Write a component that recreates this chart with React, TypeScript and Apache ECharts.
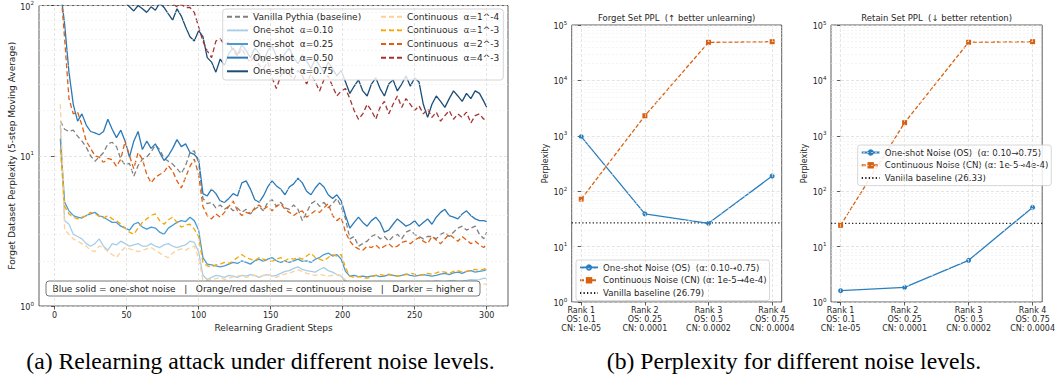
import React, { useEffect, useRef } from "react";
import * as echarts from "echarts";

// ---------- Data: left panel (5-step moving average, sampled steps) ----------
const STEPS = [4, 7, 10, 13, 16, 19, 22, 25, 28, 31, 34, 37, 40, 43, 46, 49, 52, 55, 58, 61, 64, 67, 70, 73, 76, 79, 82, 85, 88, 91, 94, 97, 100, 103, 106, 109, 112, 115, 118, 121, 124, 127, 130, 133, 136, 139, 142, 145, 148, 151, 154, 157, 160, 163, 166, 169, 172, 175, 178, 181, 184, 187, 190, 193, 196, 199, 202, 205, 208, 211, 214, 217, 220, 223, 226, 229, 232, 235, 238, 241, 244, 247, 250, 253, 256, 259, 262, 265, 268, 271, 274, 277, 280, 283, 286, 289, 292, 295, 298, 300];

const VANILLA = [17, 15, 14.5, 14.8, 13.5, 12.5, 11.4, 10, 9.2, 9.8,
  10.5, 12, 12.3, 11.5, 9.5, 8.7, 8.9, 7.3, 8.6, 9.5,
  9.8, 10.6, 11.8, 11, 9.6, 9.2, 8.8, 8.2, 7.6, 8.6,
  10.5, 10.8, 9, 5.2, 4.8, 4.9, 4.5, 4.7, 4.4, 4.6,
  4.3, 4.5, 4.2, 4.4, 4.1, 4.4, 4.6, 4.3, 4.9, 5.1,
  4.6, 4.9, 4.5, 4.4, 4.7, 4.4, 3.7, 4.2, 4.8, 5.0,
  4.6, 4.9, 4.5, 4.8, 5.2, 4.6, 3.8, 2.8, 2.9, 2.5,
  2.6, 2.7, 2.9, 3.0, 2.8, 2.9, 2.7, 2.9, 3.0, 2.8,
  3.1, 3.2, 3.0, 2.9, 2.8, 2.9, 2.9, 2.8, 3.0, 3.1,
  2.9, 3.1, 3.3, 3.4, 3.2, 3.3, 3.4, 3.0, 2.8, 3.1];

const OS_010 = [16, 3.7, 3.5, 3.0, 2.9, 2.8, 2.6, 2.5, 2.6, 2.8,
  2.5, 2.35, 2.6, 2.55, 2.7, 2.6, 2.5, 2.55, 2.6, 2.5,
  2.5, 2.6, 2.5, 2.45, 2.55, 2.6, 2.5, 2.45, 2.5, 2.55,
  2.7, 2.65, 2.3, 1.6, 1.5, 1.55, 1.6, 1.58, 1.55, 1.6,
  1.58, 1.55, 1.6, 1.58, 1.62, 1.6, 1.55, 1.6, 1.62, 1.58,
  1.6, 1.65, 1.7, 1.72, 1.78, 1.82, 1.75, 1.72, 1.7, 1.68,
  1.75, 1.8, 1.72, 1.68, 1.62, 1.58, 1.45, 1.42, 1.44, 1.43,
  1.45, 1.44, 1.42, 1.44, 1.46, 1.44, 1.43, 1.45, 1.44, 1.46,
  1.45, 1.44, 1.46, 1.45, 1.44, 1.46, 1.45, 1.47, 1.46, 1.45,
  1.47, 1.48, 1.46, 1.47, 1.48, 1.5, 1.49, 1.5, 1.53, 1.52];

const OS_025 = [13, 4.9, 4.3, 4.0, 3.9, 3.85, 4.0, 4.1, 4.2, 4.0,
  3.9, 3.75, 3.6, 3.6, 3.4, 3.3, 3.2, 3.5, 3.6, 3.35,
  3.25, 3.35, 3.3, 3.1, 3.0, 3.3, 3.45, 3.6, 3.7, 3.65,
  3.9, 3.7, 3.2, 2.1, 1.9, 1.88, 1.85, 1.82, 1.85, 1.9,
  1.95, 1.92, 2.0, 1.95, 1.9, 2.0, 2.05, 1.98, 2.05, 2.1,
  2.0, 1.95, 2.0, 1.95, 2.0, 2.05, 1.98, 2.0, 1.95, 2.05,
  2.1, 2.2, 2.25, 2.15, 2.2, 2.05, 1.7, 1.58, 1.6, 1.57,
  1.58, 1.56, 1.58, 1.6, 1.57, 1.58, 1.62, 1.6, 1.58, 1.6,
  1.63, 1.6, 1.58, 1.6, 1.62, 1.6, 1.58, 1.6, 1.63, 1.65,
  1.62, 1.66, 1.68, 1.65, 1.7, 1.72, 1.68, 1.7, 1.72, 1.75];

const OS_050 = [130, 75, 36, 22, 17, 19, 16, 14.5, 14.2, 13.8,
  14.5, 17.5, 15, 13.2, 14.8, 12.5, 9.8, 12.5, 14.5, 11,
  12.5, 11.2, 12, 10.5, 9.3, 10, 11.2, 12.8, 11.5, 12,
  10.5, 10.2, 9.5, 5.6, 5.4, 6, 5.6, 5.0, 4.9, 5.2,
  5.6, 5.4, 6.6, 6.8, 6, 5.1, 4.9, 5.4, 6.2, 6.8,
  6.3, 6.0, 5.5, 6.2, 6.5, 7.1, 6.6, 5.8, 5.5, 6.1,
  6.6, 6.2, 5.5, 5.2, 5.5, 5.0, 4.0, 3.3, 3.6, 3.9,
  3.6, 3.4, 3.7, 3.9, 3.6, 3.1, 3.2, 3.5, 3.8, 3.6,
  3.4, 3.5, 3.7, 3.4, 3.6, 3.8, 3.5, 3.9, 4.2, 4.4,
  4.0, 3.9, 3.8, 4.1, 4.3, 4.0, 3.8, 3.7, 3.7, 3.65];

const OS_075 = [150, 140, 130, 125, 120, 118, 122, 115, 120, 112,
  118, 110, 115, 108, 112, 105, 98, 92, 100, 95,
  90, 98, 93, 104, 97, 88, 80, 95, 85, 72,
  62, 58, 68, 62, 45, 42, 36, 44, 40, 48,
  52, 47, 55, 50, 45, 52, 48, 42, 50, 54,
  46, 43, 48, 52, 45, 41, 47, 43, 38, 44,
  40, 36, 42, 38, 34, 37, 31, 26, 29, 32,
  27, 25, 30, 33, 28, 25, 30, 32, 27, 30,
  34, 29, 33, 31, 22, 18, 22, 25, 23, 21,
  24, 27, 25, 23, 26, 24, 27, 26, 23, 21];

const CN_1E4 = [22, 3.2, 3.0, 2.8, 2.7, 2.6, 2.5, 2.35, 2.3, 2.5,
  2.45, 2.3, 2.2, 2.1, 2.3, 2.45, 2.4, 2.35, 2.3, 2.35,
  2.4, 2.45, 2.35, 2.25, 2.15, 2.1, 2.25, 2.35, 2.4, 2.35,
  2.45, 2.5, 2.1, 1.5, 1.48, 1.5, 1.52, 1.55, 1.5, 1.53,
  1.56, 1.58, 1.6, 1.55, 1.58, 1.6, 1.56, 1.6, 1.62, 1.58,
  1.55, 1.6, 1.63, 1.65, 1.7, 1.74, 1.7, 1.65, 1.62, 1.6,
  1.62, 1.6, 1.58, 1.6, 1.62, 1.6, 1.48, 1.42, 1.4, 1.41,
  1.42, 1.4, 1.41, 1.43, 1.42, 1.4, 1.41, 1.42, 1.43, 1.41,
  1.42, 1.4, 1.41, 1.42, 1.43, 1.41, 1.42, 1.4, 1.41, 1.42,
  1.43, 1.42, 1.41, 1.42, 1.4, 1.41, 1.42, 1.41, 1.4, 1.4];

const CN_1E3 = [11, 4.6, 4.1, 3.9, 3.8, 3.9, 4.0, 4.2, 4.1, 3.95,
  3.85, 4.0, 3.8, 3.7, 3.5, 3.3, 3.1, 3.0, 3.3, 3.6,
  3.8, 4.0, 4.1, 3.7, 3.5, 3.75, 3.9, 3.6, 3.35, 3.45,
  3.5, 3.25, 2.9, 1.95, 1.85, 1.82, 1.88, 1.9, 1.95, 1.92,
  2.0, 2.1, 2.2, 2.1, 2.05, 2.0, 2.1, 2.05, 2.0, 1.98,
  2.05, 2.1, 2.0, 2.08, 2.05, 2.1, 2.05, 2.15, 2.25, 2.1,
  2.05, 2.0, 2.1, 2.2, 2.15, 2.2, 1.8, 1.58, 1.55, 1.57,
  1.55, 1.53, 1.56, 1.6, 1.62, 1.6, 1.63, 1.6, 1.58, 1.6,
  1.62, 1.65, 1.63, 1.6, 1.62, 1.65, 1.63, 1.66, 1.7, 1.68,
  1.65, 1.7, 1.72, 1.68, 1.7, 1.73, 1.75, 1.72, 1.76, 1.8];

const CN_2E3 = [140, 60, 24, 19, 19.5, 16, 12.5, 11.2, 10, 9.8,
  9, 9.6, 9.4, 8.5, 9.5, 12.5, 10, 8.2, 10.5, 9.5,
  7.5, 6.6, 7.2, 7.5, 7.8, 8.6, 7.9, 6.8, 6.1, 7.2,
  8.5, 9.5, 7.5, 4.6, 4.0, 3.8, 4.1, 3.9, 4.2, 4.6,
  5.0, 4.3, 4.0, 4.2, 4.1, 4.5, 4.7, 4.4, 4.6, 4.3,
  4.6, 4.8, 4.4, 4.2, 4.0, 4.2, 4.3, 3.9, 4.1, 4.3,
  4.2, 4.5, 4.8, 4.0, 3.7, 3.9, 3.1, 2.7, 2.5, 2.4,
  2.35, 2.5, 2.45, 2.55, 2.4, 2.5, 2.6, 2.45, 2.5, 2.65,
  2.7, 2.6, 2.75, 2.85, 2.7, 2.6, 2.9, 2.75, 2.6, 2.8,
  3.0, 2.85, 2.7, 2.9, 2.75, 2.6, 2.7, 2.55, 2.45, 2.6];

const CN_4E3 = [160, 150, 140, 135, 130, 128, 125, 130, 122, 126,
  120, 124, 118, 122, 116, 120, 115, 118, 113, 117,
  112, 115, 110, 114, 108, 112, 103, 98, 102, 97,
  97, 90, 72, 58, 50, 45, 58, 60, 55, 57,
  50, 46, 52, 45, 42, 47, 40, 38, 42, 33,
  28, 34, 38, 35, 32, 37, 34, 30, 35, 31,
  27, 32, 34, 29, 25, 27, 28, 24, 20, 17.5,
  19, 22, 20, 17.5, 21, 23, 19, 22, 25, 21,
  24, 22, 20, 21.5, 19, 20.5, 18, 19.5, 17, 18.5,
  20, 17.5, 19, 18, 19.5, 16.5, 18.5, 19, 17.5, 18];

const LEFT_XTICKS = [0, 50, 100, 150, 200, 250, 300];

// ---------- Data: right panels ----------
const RANKS = ["Rank 1", "Rank 2", "Rank 3", "Rank 4"];
const OS_LEVELS = ["0.1", "0.25", "0.5", "0.75"];
const CN_LEVELS = ["1e-05", "0.0001", "0.0002", "0.0004"];
const RANK_POS = [0, 1, 2, 3];
const FORGET_OS = [964, 39, 26.3, 188];
const FORGET_CN = [72, 2300, 48700, 50000];
const FORGET_BASE = 26.79;
const RETAIN_OS = [1.6, 1.84, 5.66, 51];
const RETAIN_CN = [24.2, 1725, 48800, 50000];
const RETAIN_BASE = 26.33;

const FONT = "DejaVu Sans";
const TXT = "#262626";

const LEFT_SERIES = [
  { name: "Vanilla Pythia (baseline)", data: VANILLA, color: "#808080", dash: true },
  { name: "One-shot  α=0.10", data: OS_010, color: "#a6cee8", dash: false },
  { name: "One-shot  α=0.25", data: OS_025, color: "#4a9bd4", dash: false },
  { name: "One-shot  α=0.50", data: OS_050, color: "#2a79b8", dash: false },
  { name: "One-shot  α=0.75", data: OS_075, color: "#1b4d78", dash: false },
  { name: "Continuous  α=1^-4", data: CN_1E4, color: "#fdd09a", dash: true },
  { name: "Continuous  α=1^-3", data: CN_1E3, color: "#f5a700", dash: true },
  { name: "Continuous  α=2^-3", data: CN_2E3, color: "#df5f10", dash: true },
  { name: "Continuous  α=4^-3", data: CN_4E3, color: "#a33333", dash: true },
];

const OS_NAME = "One-shot Noise (OS)  (α: 0.10→0.75)";
const CN_NAME = "Continuous Noise (CN) (α: 1e-5→4e-4)";
const OS_COLOR = "#2a7fbf";
const CN_COLOR = "#d9600e";

function minorValues(decades: number): number[] {
  const out: number[] = [];
  for (let e = 0; e < decades; e++) {
    for (let m = 2; m <= 9; m++) out.push(m * Math.pow(10, e));
  }
  return out;
}

const supFmt = (v: number) => `{b|10}{s|${Math.round(Math.log10(v))}}`;
const supRich = {
  b: { fontSize: 8, fontFamily: FONT, color: TXT, lineHeight: 11, verticalAlign: "bottom" },
  s: { fontSize: 5.6, fontFamily: FONT, color: TXT, lineHeight: 11, verticalAlign: "top" },
};

const majorGrid = { color: "#d8d8d8", width: 0.7, type: [3, 2] };
const minorGrid = { color: "#ececec", width: 0.6, type: [2, 2] };

function gridHelper(xi: number, xVals: number[], yMinor: number[]) {
  return {
    type: "line",
    xAxisIndex: xi,
    yAxisIndex: xi,
    data: [],
    silent: true,
    z: 1,
    markLine: {
      silent: true,
      symbol: ["none", "none"],
      label: { show: false },
      emphasis: { disabled: true },
      animation: false,
      data: [
        ...xVals.map((x) => ({ xAxis: x, lineStyle: majorGrid })),
        ...yMinor.map((y) => ({ yAxis: y, lineStyle: minorGrid })),
      ],
    },
  };
}

function buildOption() {
  const tickStyle = { length: 3.5, lineStyle: { color: "#333", width: 0.8 } };
  const rankFmt = (v: number) => {
    const i = Math.round(v);
    return `${RANKS[i]}\nOS: ${OS_LEVELS[i]}\nCN: ${CN_LEVELS[i]}`;
  };
  const rightX = (gi: number) => ({
    gridIndex: gi,
    type: "value",
    min: -0.15,
    max: 3.15,
    axisLine: { show: false },
    splitLine: { show: false },
    axisTick: { show: true, customValues: RANK_POS, ...tickStyle },
    axisLabel: {
      customValues: RANK_POS,
      formatter: rankFmt,
      fontSize: 8,
      lineHeight: 9,
      color: TXT,
      fontFamily: FONT,
      margin: 4,
    },
  });
  const rightY = (gi: number) => ({
    gridIndex: gi,
    type: "log",
    logBase: 10,
    min: 1,
    max: 100000,
    interval: 1,
    axisLine: { show: false },
    axisTick: { show: true, ...tickStyle },
    splitLine: { show: true, lineStyle: majorGrid },
    axisLabel: { formatter: supFmt, rich: supRich, margin: 4.5 },
    name: "Perplexity",
    nameLocation: "middle",
    nameGap: 17.5,
    nameTextStyle: { fontSize: 8, color: TXT, fontFamily: FONT },
  });

  const leftSeries = LEFT_SERIES.map((s) => ({
    type: "line",
    name: s.name,
    xAxisIndex: 0,
    yAxisIndex: 0,
    data: STEPS.map((x, i) => [x, s.data[i]]),
    symbol: "none",
    color: s.color,
    lineStyle: { color: s.color, width: 1.3, type: s.dash ? [5, 3] : "solid" },
    clip: true,
    z: 2,
  }));

  const rightSeries = (gi: number, os: number[], cn: number[], base: number, baseName: string) => [
    {
      type: "line",
      name: OS_NAME,
      xAxisIndex: gi,
      yAxisIndex: gi,
      data: RANK_POS.map((x, i) => [x, os[i]]),
      symbol: "circle",
      symbolSize: 5,
      color: OS_COLOR,
      lineStyle: { color: OS_COLOR, width: 1.3 },
      itemStyle: { color: OS_COLOR },
      z: 3,
    },
    {
      type: "line",
      name: CN_NAME,
      xAxisIndex: gi,
      yAxisIndex: gi,
      data: RANK_POS.map((x, i) => [x, cn[i]]),
      symbol: "rect",
      symbolSize: 5,
      color: CN_COLOR,
      lineStyle: { color: CN_COLOR, width: 1.3, type: [4, 2] },
      itemStyle: { color: CN_COLOR },
      z: 3,
    },
    {
      type: "line",
      name: baseName,
      xAxisIndex: gi,
      yAxisIndex: gi,
      data: [[-0.15, base], [3.15, base]],
      symbol: "none",
      color: "#222",
      lineStyle: { color: "#222", width: 1.3, type: [1.3, 2.2] },
      z: 2,
    },
  ];

  const legText = (fs: number, lh: number) => ({ fontSize: fs, lineHeight: lh, color: TXT, fontFamily: FONT });
  const noSym = (name: string) => ({ name, itemStyle: { opacity: 0 } });

  return {
    animation: false,
    backgroundColor: "#ffffff",
    grid: [
      { left: 39, top: 4, width: 469, height: 302, show: true, borderColor: "#333", borderWidth: 0.8, backgroundColor: "transparent" },
      { left: 571.7, top: 25, width: 210, height: 277, show: true, borderColor: "#333", borderWidth: 0.8, backgroundColor: "transparent" },
      { left: 831, top: 25, width: 211.3, height: 277, show: true, borderColor: "#333", borderWidth: 0.8, backgroundColor: "transparent" },
    ],
    xAxis: [
      {
        gridIndex: 0,
        type: "value",
        min: -10.8,
        max: 314.8,
        axisLine: { show: false },
        splitLine: { show: false },
        axisTick: { show: true, customValues: LEFT_XTICKS, ...tickStyle },
        axisLabel: { customValues: LEFT_XTICKS, fontSize: 8, color: TXT, fontFamily: FONT, margin: 5 },
        name: "Relearning Gradient Steps",
        nameLocation: "middle",
        nameGap: 16,
        nameTextStyle: { fontSize: 9, color: TXT, fontFamily: FONT },
      },
      rightX(1),
      rightX(2),
    ],
    yAxis: [
      {
        gridIndex: 0,
        type: "log",
        logBase: 10,
        min: 1,
        max: 100,
        interval: 1,
        axisLine: { show: false },
        axisTick: { show: true, ...tickStyle },
        splitLine: { show: true, lineStyle: majorGrid },
        axisLabel: { formatter: supFmt, rich: supRich, margin: 5 },
        name: "Forget Dataset Perplexity (5-step Moving Average)",
        nameLocation: "middle",
        nameGap: 22,
        nameTextStyle: { fontSize: 9, color: TXT, fontFamily: FONT },
      },
      rightY(1),
      rightY(2),
    ],
    legend: [
      {
        data: LEFT_SERIES.slice(0, 5).map((s) => noSym(s.name)),
        orient: "vertical",
        left: 226,
        top: 11.7,
        padding: 0,
        itemWidth: 21,
        itemHeight: 10,
        itemGap: 3.65,
        selectedMode: false,
        itemStyle: { opacity: 0 },
        textStyle: legText(9, 10),
        z: 5,
      },
      {
        data: LEFT_SERIES.slice(5).map((s) => noSym(s.name)),
        orient: "vertical",
        left: 380,
        top: 11.7,
        padding: 0,
        itemWidth: 21,
        itemHeight: 10,
        itemGap: 3.65,
        selectedMode: false,
        itemStyle: { opacity: 0 },
        textStyle: legText(9, 10),
        z: 5,
      },
      {
        data: [OS_NAME, CN_NAME, noSym(`Vanilla baseline (${FORGET_BASE})`)],
        orient: "vertical",
        left: 576,
        top: 260,
        padding: [3, 3, 3, 3],
        itemWidth: 18,
        itemHeight: 8,
        itemGap: 3.8,
        selectedMode: false,
        backgroundColor: "rgba(255,255,255,0.85)",
        borderColor: "#cccccc",
        borderWidth: 0.8,
        borderRadius: 2.5,
        textStyle: legText(8.6, 8),
        z: 5,
      },
      {
        data: [OS_NAME, CN_NAME, noSym(`Vanilla baseline (${RETAIN_BASE})`)],
        orient: "vertical",
        left: 857.7,
        top: 145,
        padding: [3, 3, 3, 3],
        itemWidth: 18,
        itemHeight: 8,
        itemGap: 3.8,
        selectedMode: false,
        backgroundColor: "rgba(255,255,255,0.85)",
        borderColor: "#cccccc",
        borderWidth: 0.8,
        borderRadius: 2.5,
        textStyle: legText(8.6, 8),
        z: 5,
      },
    ],
    graphic: [
      {
        type: "rect",
        z: 3,
        silent: true,
        shape: { x: 222.7, y: 9, width: 280.6, height: 71, r: 3 },
        style: { fill: "rgba(255,255,255,0.8)", stroke: "#cccccc", lineWidth: 0.8 },
      },
      {
        type: "rect",
        z: 3,
        silent: true,
        shape: { x: 46, y: 281, width: 434, height: 15, r: 3 },
        style: { fill: "rgba(255,255,255,0.9)", stroke: "#555555", lineWidth: 0.8 },
      },
      {
        type: "text",
        z: 4,
        silent: true,
        x: 263,
        y: 288.5,
        style: {
          text: "Blue solid = one-shot noise   |   Orange/red dashed = continuous noise   |   Darker = higher α",
          fontSize: 9,
          fontFamily: FONT,
          fill: TXT,
          align: "center",
          verticalAlign: "middle",
          textAlign: "center",
          textVerticalAlign: "middle",
        },
      },
      {
        type: "text",
        z: 4,
        silent: true,
        x: 676.7,
        y: 18.3,
        style: {
          text: "Forget Set PPL  (↑ better unlearning)",
          fontSize: 8.5,
          fontFamily: FONT,
          fill: TXT,
          align: "center",
          verticalAlign: "middle",
          textAlign: "center",
          textVerticalAlign: "middle",
        },
      },
      {
        type: "text",
        z: 4,
        silent: true,
        x: 936.7,
        y: 18.3,
        style: {
          text: "Retain Set PPL  (↓ better retention)",
          fontSize: 8.5,
          fontFamily: FONT,
          fill: TXT,
          align: "center",
          verticalAlign: "middle",
          textAlign: "center",
          textVerticalAlign: "middle",
        },
      },
      {
        type: "text",
        z: 4,
        silent: true,
        x: 260.5,
        y: 360.5,
        style: {
          text: "(a) Relearning attack under different noise levels.",
          fontSize: 23.7,
          fontFamily: "Liberation Serif",
          fill: "#000",
          align: "center",
          verticalAlign: "middle",
          textAlign: "center",
          textVerticalAlign: "middle",
        },
      },
      {
        type: "text",
        z: 4,
        silent: true,
        x: 794,
        y: 360.5,
        style: {
          text: "(b) Perplexity for different noise levels.",
          fontSize: 23.7,
          fontFamily: "Liberation Serif",
          fill: "#000",
          align: "center",
          verticalAlign: "middle",
          textAlign: "center",
          textVerticalAlign: "middle",
        },
      },
    ],
    series: [
      gridHelper(0, LEFT_XTICKS, minorValues(2)),
      gridHelper(1, RANK_POS, minorValues(5)),
      gridHelper(2, RANK_POS, minorValues(5)),
      ...leftSeries,
      ...rightSeries(1, FORGET_OS, FORGET_CN, FORGET_BASE, `Vanilla baseline (${FORGET_BASE})`),
      ...rightSeries(2, RETAIN_OS, RETAIN_CN, RETAIN_BASE, `Vanilla baseline (${RETAIN_BASE})`),
    ],
  };
}

export default function App() {
  const ref = useRef<HTMLDivElement>(null);
  useEffect(() => {
    if (!ref.current) return;
    const chart = echarts.init(ref.current, undefined, { renderer: "svg" });
    chart.setOption(buildOption() as any);
    return () => chart.dispose();
  }, []);
  return (
    <div
      ref={ref}
      style={{ position: "fixed", left: 0, top: 0, width: 1058, height: 381, background: "#fff" }}
    />
  );
}
